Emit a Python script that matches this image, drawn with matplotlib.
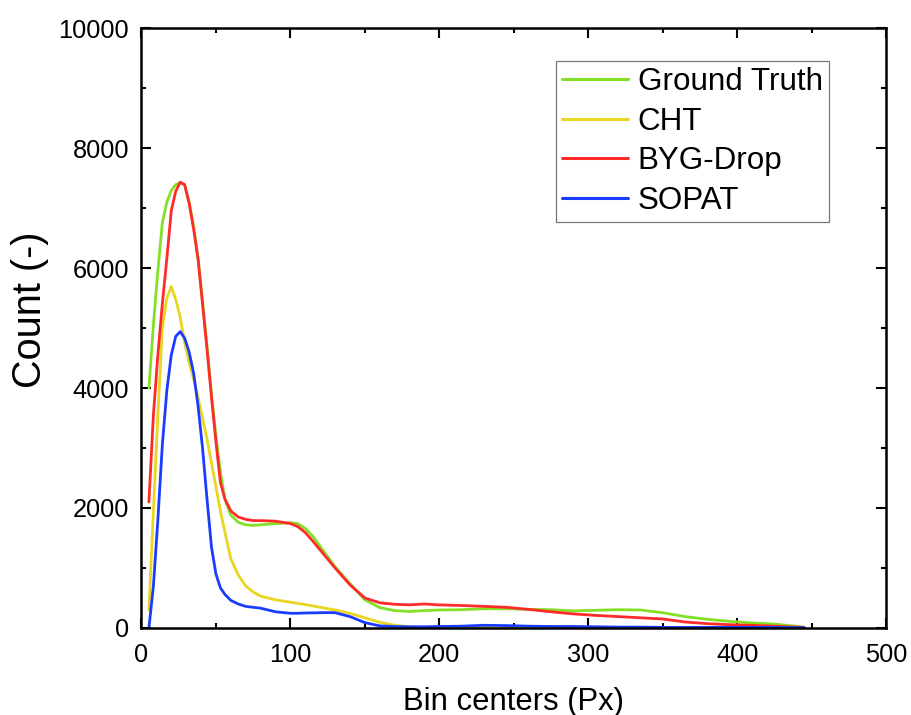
import matplotlib
matplotlib.use("Agg")
import matplotlib.pyplot as plt
from matplotlib.ticker import MultipleLocator

plt.rcParams['font.family'] = ['Liberation Sans', 'DejaVu Sans']

bin_centers = [5, 8, 11, 14, 17, 20, 23, 26, 29, 32, 35, 38, 41, 44, 47, 50, 53, 56, 60, 65,
               70, 75, 80, 90, 100, 105, 110, 115, 120, 125, 130, 140, 150, 160, 170, 180,
               190, 200, 215, 230, 245, 260, 275, 290, 305, 320, 335, 350, 365, 380, 395,
               410, 425, 445]

ground_truth = [4000, 5050, 5950, 6750, 7100, 7290, 7390, 7420, 7380, 7100, 6700, 6150, 5450,
                4700, 3900, 3200, 2600, 2150, 1880, 1760, 1720, 1710, 1720, 1740, 1755, 1740,
                1660, 1530, 1360, 1190, 1020, 740, 470, 340, 290, 275, 290, 300, 305, 320,
                320, 310, 305, 285, 295, 305, 300, 255, 190, 145, 110, 85, 65, 15]

cht = [300, 1950, 3550, 5000, 5500, 5690, 5480, 5180, 4750, 4420, 4150, 3850, 3500, 3150,
       2750, 2350, 1950, 1600, 1150, 880, 700, 600, 530, 470, 430, 410, 390, 368, 345, 322,
       300, 245, 170, 95, 45, 20, 10, 10, 10, 10, 10, 10, 10, 10, 10, 10, 10, 10, 10, 10,
       10, 10, 10, 5]

byg_drop = [2100, 3550, 4550, 5400, 6150, 6950, 7280, 7430, 7390, 7080, 6650, 6150, 5400,
            4650, 3850, 3100, 2430, 2150, 1950, 1850, 1810, 1790, 1790, 1780, 1740, 1690,
            1590, 1450, 1300, 1150, 1000, 720, 500, 420, 395, 385, 400, 385, 375, 360, 345,
            310, 270, 235, 210, 190, 170, 150, 100, 72, 55, 45, 30, 10]

sopat = [0, 700, 1800, 3050, 3950, 4550, 4860, 4940, 4830, 4600, 4250, 3700, 3000, 2150,
         1350, 900, 670, 560, 460, 400, 360, 345, 330, 270, 245, 245, 250, 252, 255, 256,
         255, 190, 90, 35, 25, 20, 20, 25, 30, 45, 40, 30, 25, 25, 20, 15, 15, 10, 10, 10,
         10, 10, 10, 5]

series_names = ["Ground Truth", "CHT", "BYG-Drop", "SOPAT"]
colors = ["#84E024", "#E8D620", "#FF2A2A", "#1A3CFF"]

fig = plt.figure(figsize=(9.11, 7.15), dpi=100)
ax = fig.add_axes([0.1553, 0.1217, 0.8173, 0.8391])

for vals, name, c in zip([ground_truth, cht, byg_drop, sopat], series_names, colors):
    ax.plot(bin_centers, vals, color=c, lw=2.0, label=name,
            solid_joinstyle='round', solid_capstyle='round')

ax.set_xlim(0, 500)
ax.set_ylim(0, 10000)
ax.xaxis.set_major_locator(MultipleLocator(100))
ax.xaxis.set_minor_locator(MultipleLocator(50))
ax.yaxis.set_major_locator(MultipleLocator(2000))
ax.yaxis.set_minor_locator(MultipleLocator(1000))

for s in ax.spines.values():
    s.set_linewidth(1.8)

ax.tick_params(which='both', direction='in', top=True, right=True, width=1.5)
ax.tick_params(which='major', length=7)
ax.tick_params(which='minor', length=3.6)
ax.tick_params(axis='x', which='major', labelsize=18.3, pad=11)
ax.tick_params(axis='y', which='major', labelsize=18.3, pad=9)

ax.set_xlabel("Bin centers (Px)", fontsize=22.3, labelpad=14)
ax.set_ylabel("Count (-)", fontsize=28.5)
ax.yaxis.set_label_coords(-0.124, 0.53)

leg = ax.legend(loc='upper right', bbox_to_anchor=(0.9235, 0.945), borderaxespad=0,
                fontsize=22.6, frameon=True, fancybox=False, edgecolor='#555555',
                handlelength=2.1, handletextpad=0.3, labelspacing=0.3, borderpad=0.2)
leg.get_frame().set_linewidth(0.9)
for line in leg.get_lines():
    line.set_linewidth(2.2)

fig.savefig("out.png", dpi=100)
